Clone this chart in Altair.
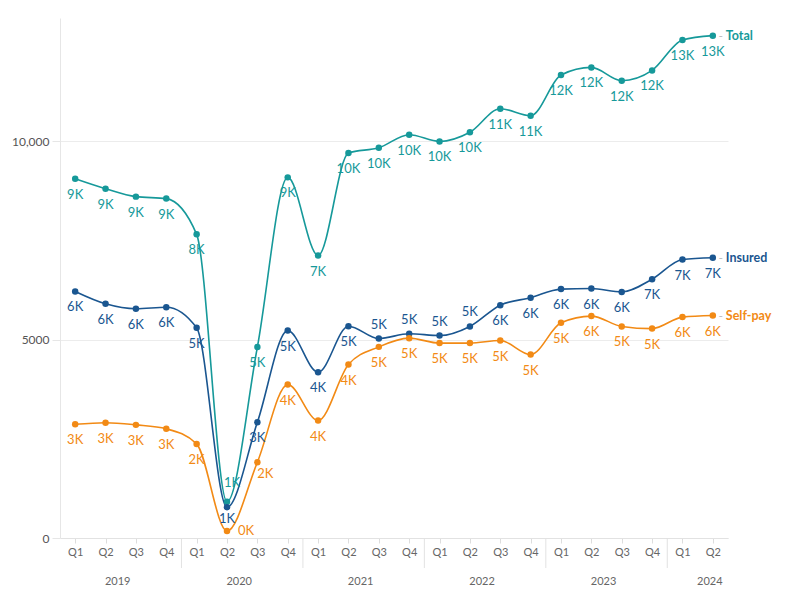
import altair as alt
import pandas as pd

years = [2019, 2020, 2021, 2022, 2023, 2024]
quarters = ["Q1", "Q2", "Q3", "Q4"]
keys = [f"{y} {q}" for y in years for q in quarters][:22]

series_names = ["Total", "Insured", "Self-pay"]
series_colors = ["#16999a", "#1a5690", "#f28a15"]

total = [9050, 8800, 8600, 8550, 7650, 915, 4810, 9085, 7115, 9700, 9830,
         10160, 9990, 10220, 10815, 10640, 11665, 11855, 11520, 11780, 12545, 12655]
insured = [6210, 5900, 5775, 5815, 5295, 775, 2915, 5225, 4175, 5335, 5025,
           5145, 5100, 5330, 5865, 6055, 6270, 6285, 6200, 6520, 7015, 7060]
selfpay = [2865, 2905, 2850, 2750, 2370, 175, 1910, 3865, 2960, 4370, 4815,
           5035, 4910, 4910, 4975, 4620, 5420, 5590, 5330, 5275, 5565, 5605]

total_labels = ["9K"] * 4 + ["8K", "1K", "5K", "9K", "7K"] + ["10K"] * 5 + ["11K"] * 2 + ["12K"] * 4 + ["13K"] * 2
insured_labels = ["6K"] * 4 + ["5K", "1K", "3K", "5K", "4K"] + ["5K"] * 5 + ["6K"] * 5 + ["7K"] * 3
selfpay_labels = ["3K"] * 4 + ["2K", "0K", "2K", "4K", "4K", "4K"] + ["5K"] * 7 + ["6K", "5K", "5K", "6K", "6K"]

rows = []
for name, vals, labs in [("Total", total, total_labels),
                         ("Insured", insured, insured_labels),
                         ("Self-pay", selfpay, selfpay_labels)]:
    for k, v, l in zip(keys, vals, labs):
        rows.append({"key": k, "series": name, "value": v, "label": l})
df = pd.DataFrame(rows)

year_df = pd.DataFrame({"key": [f"{y} Q2" for y in years[:-1]],
                        "year": [str(y) for y in years[:-1]]})
last_year_df = pd.DataFrame({"key": [f"{years[-1]} Q2"], "year": [str(years[-1])]})
sep_df = pd.DataFrame({"key": [f"{y} Q1" for y in years[1:]]})

W, H = 668, 520
step = W / len(keys)
FONT = "Lato"

xenc = alt.X("key:O", sort=keys,
             scale=alt.Scale(type="point", padding=0.5, domain=keys),
             axis=alt.Axis(title=None, labelExpr="split(datum.value, ' ')[1]",
                           labelAngle=0, labelFont=FONT, labelFontSize=11,
                           labelColor="#666", tickColor="#dddddd", tickSize=5,
                           domainColor="#e2e2e2", labelPadding=3, grid=False))
yenc = alt.Y("value:Q", scale=alt.Scale(domain=[0, 13100], nice=False),
             axis=alt.Axis(title=None, values=[0, 5000, 10000],
                           labelExpr="datum.value >= 10000 ? format(datum.value, ',') : format(datum.value, 'd')",
                           labelFont=FONT, labelFontSize=12, labelColor="#555",
                           tickColor="#e6e6e6", tickSize=8, labelPadding=3,
                           gridColor="#ececec", domainColor="#e6e6e6"))
color = alt.Color("series:N", scale=alt.Scale(domain=series_names, range=series_colors), legend=None)

base = alt.Chart(df).encode(x=xenc, y=yenc, color=color)

lines = base.mark_line(interpolate="monotone", strokeWidth=1.6)
points = base.mark_circle(size=42, opacity=1)

above_expr = "datum.series == 'Insured' && indexof(['2021 Q3','2021 Q4','2022 Q1','2022 Q2'], datum.key) >= 0"
special_expr = "datum.key == '2020 Q2' || (datum.series == 'Self-pay' && datum.key == '2020 Q3')"

txt = dict(font=FONT, fontSize=13, baseline="middle", align="center")
lab_below = base.mark_text(dy=16, **txt).encode(text="label:N").transform_filter(
    f"!({above_expr}) && !({special_expr})")
lab_above = base.mark_text(dy=-14, **txt).encode(text="label:N").transform_filter(above_expr)
lab_t2 = base.mark_text(dx=5, dy=-19, **txt).encode(text="label:N").transform_filter(
    "datum.series == 'Total' && datum.key == '2020 Q2'")
lab_i2 = base.mark_text(dy=12, **txt).encode(text="label:N").transform_filter(
    "datum.series == 'Insured' && datum.key == '2020 Q2'")
lab_s2 = base.mark_text(dx=19, dy=0, **txt).encode(text="label:N").transform_filter(
    "datum.series == 'Self-pay' && datum.key == '2020 Q2'")
lab_s3 = base.mark_text(dx=8, dy=12, **txt).encode(text="label:N").transform_filter(
    "datum.series == 'Self-pay' && datum.key == '2020 Q3'")

last_key = keys[-1]
end_labels = base.mark_text(dx=13, align="left", baseline="middle", font=FONT,
                            fontSize=12.5, fontWeight="bold").encode(
    text="series:N").transform_filter(f"datum.key == '{last_key}'")
end_dash = base.mark_text(dx=8, align="center", baseline="middle", font=FONT,
                          fontSize=12, color="#bbbbbb").encode(
    text=alt.value("-"), color=alt.value("#bbbbbb")).transform_filter(f"datum.key == '{last_key}'")

seps = alt.Chart(sep_df).mark_rule(color="#e2e2e2", xOffset=-step / 2).encode(
    x=alt.X("key:O", sort=keys), y=alt.value(H), y2=alt.value(H + 30))
year_labels = alt.Chart(year_df).mark_text(dx=step / 2 - 3, font=FONT, fontSize=11,
                                           color="#666", baseline="middle").encode(
    x=alt.X("key:O", sort=keys), y=alt.value(H + 44), text="year:N")
year_last = alt.Chart(last_year_df).mark_text(dx=-3, font=FONT, fontSize=11,
                                              color="#666", baseline="middle").encode(
    x=alt.X("key:O", sort=keys), y=alt.value(H + 44), text="year:N")

chart = alt.layer(lines, points, lab_below, lab_above, lab_t2, lab_i2, lab_s2, lab_s3,
                  end_dash, end_labels, seps, year_labels, year_last).properties(
    width=W, height=H,
    autosize=alt.AutoSizeParams(type="none"),
    padding={"left": 52, "top": 10, "right": 60, "bottom": 50},
    background="white",
).configure_view(stroke=None)

chart.save("out.html", embed_options={"renderer": "svg", "actions": False})
